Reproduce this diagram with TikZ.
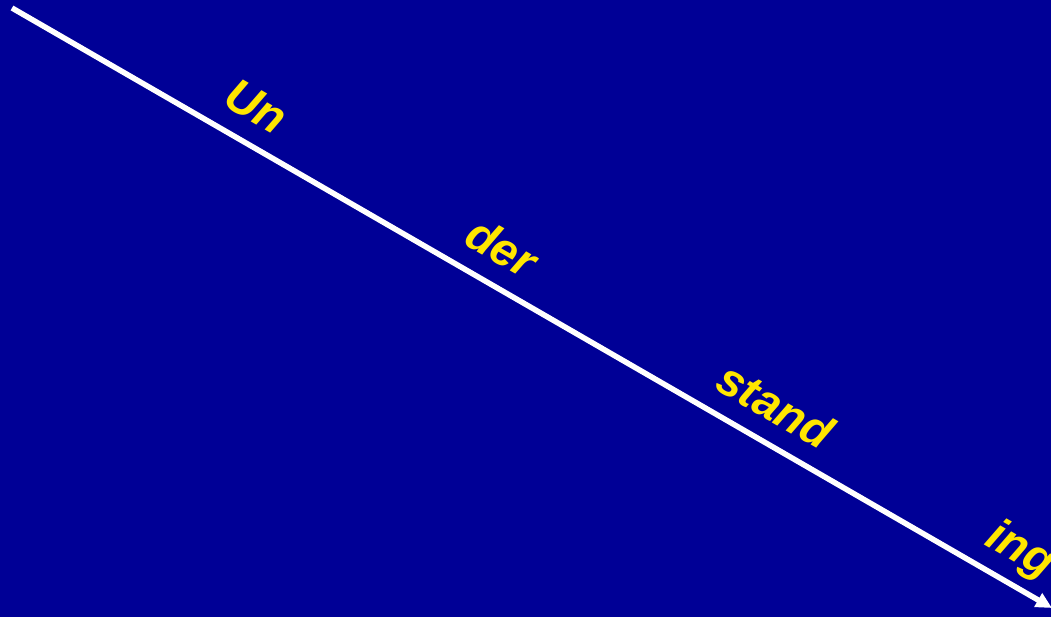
\documentclass[tikz,border=0pt]{standalone}
\usepackage{fontspec}
\setmainfont{Liberation Sans}
\usetikzlibrary{arrows.meta}
\definecolor{slideblue}{RGB}{0,0,150}
\definecolor{wordyellow}{RGB}{255,230,0}
\begin{document}
\begin{tikzpicture}[x=1bp,y=-1bp,
  word/.style={sloped,above=21bp,anchor=base,text=wordyellow,
    font=\fontsize{47}{54}\selectfont\bfseries\itshape}]
  \fill[slideblue] (0,0) rectangle (1051,617);
  \useasboundingbox (0,0) rectangle (1051,617);
  \coordinate (start) at (12,8);
  \coordinate (end) at (1052,608);
  \draw[white,line width=5.5bp,-{Triangle[length=16bp,width=15bp]}] (start) -- (end);
  % syllables along the arrow
  \foreach \p/\n/\lab in {0.217/un/Un, 0.453/der/der, 0.716/stand/stand, 0.953/ing/ing}
    \path (start) -- (end) node[word,pos=\p] (\n) {\lab};
\end{tikzpicture}
\end{document}
